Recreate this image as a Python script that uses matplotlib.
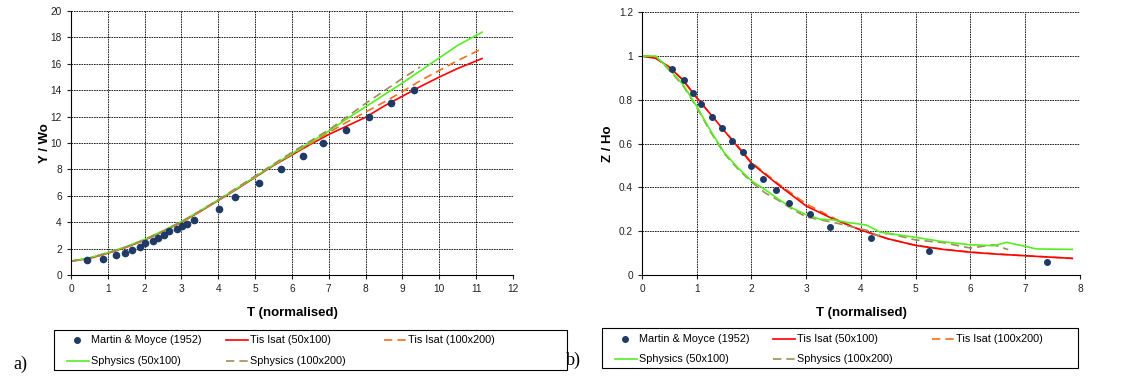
import numpy as np
import matplotlib
matplotlib.use("Agg")
import matplotlib.pyplot as plt
from matplotlib.lines import Line2D
from matplotlib.patches import Rectangle

plt.rcParams['font.family'] = ['Liberation Sans', 'DejaVu Sans']

# ---- panel a) Y / Wo ----
a_exp_t = [0.44, 0.86, 1.21, 1.46, 1.65, 1.87, 2.0, 2.23, 2.35, 2.52, 2.67, 2.87, 3.01, 3.14, 3.35,
           4.03, 4.46, 5.11, 5.70, 6.31, 6.84, 7.46, 8.08, 8.70, 9.32]
a_exp_y = [1.1, 1.2, 1.5, 1.7, 1.9, 2.1, 2.4, 2.6, 2.8, 3.0, 3.3, 3.5, 3.7, 3.9, 4.15,
           5.0, 5.9, 7.0, 8.0, 9.0, 10.0, 11.0, 12.0, 13.0, 14.0]

a_t = [0, 0.5, 1, 1.5, 2, 2.5, 3, 3.5, 4, 4.5, 5, 5.5, 6, 6.5, 7, 7.5, 8, 8.5, 9, 9.5, 10, 10.5, 11.16]
a_tis50 = [1.05, 1.25, 1.65, 2.1, 2.65, 3.3, 4.0, 4.8, 5.65, 6.5, 7.4, 8.3, 9.1, 9.9, 10.65,
           11.3, 11.95, 12.8, 13.55, 14.3, 15.0, 15.65, 16.4]
a_tis100 = [1.05, 1.25, 1.65, 2.1, 2.65, 3.3, 4.0, 4.8, 5.65, 6.55, 7.45, 8.35, 9.15, 9.95, 10.8,
            11.6, 12.35, 13.1, 13.9, 14.75, 15.5, 16.25, 17.15]
a_sph50 = [1.05, 1.3, 1.7, 2.15, 2.7, 3.35, 4.05, 4.85, 5.7, 6.55, 7.45, 8.35, 9.2, 10.05, 10.9,
           11.85, 12.75, 13.65, 14.55, 15.5, 16.45, 17.4, 18.4]
a_t_sph100 = [0, 0.5, 1, 1.5, 2, 2.5, 3, 3.5, 4, 4.5, 5, 5.5, 6, 6.5, 7, 7.5, 8, 8.5, 9, 9.48]
a_sph100 = [1.05, 1.28, 1.68, 2.12, 2.68, 3.33, 4.05, 4.85, 5.7, 6.6, 7.5, 8.4, 9.3, 10.15, 11.0,
            12.0, 13.0, 13.95, 14.9, 15.76]

# ---- panel b) Z / Ho ----
b_exp_t = [0.55, 0.77, 0.93, 1.08, 1.28, 1.47, 1.65, 1.84, 2.0, 2.21, 2.44, 2.69, 3.06, 3.44, 4.19, 5.24, 7.40]
b_exp_z = [0.94, 0.89, 0.83, 0.78, 0.72, 0.67, 0.61, 0.56, 0.50, 0.44, 0.39, 0.33, 0.28, 0.22, 0.17, 0.11, 0.06]

b_t = [0, 0.25, 0.5, 0.75, 1, 1.25, 1.5, 1.75, 2, 2.5, 3, 3.5, 4, 4.5, 5, 5.5, 6, 6.5, 7, 7.5, 7.86]
b_tis50 = [1.0, 0.99, 0.95, 0.89, 0.81, 0.735, 0.66, 0.585, 0.51, 0.41, 0.315, 0.255, 0.205, 0.165,
           0.135, 0.117, 0.104, 0.095, 0.088, 0.081, 0.076]
b_tis100 = [1.0, 0.99, 0.95, 0.89, 0.81, 0.735, 0.66, 0.59, 0.515, 0.415, 0.325, 0.26, 0.205, 0.165,
            0.136, 0.118, 0.105, 0.096, 0.088, 0.081, 0.076]

b_t_sph50 = [0, 0.25, 0.5, 0.75, 1, 1.25, 1.5, 1.75, 2, 2.25, 2.5, 2.75, 3, 3.25, 3.5, 3.75, 4, 4.1,
             4.35, 4.5, 5, 5.5, 6, 6.42, 6.66, 7, 7.2, 7.5, 7.86]
b_sph50 = [1.0, 1.0, 0.94, 0.87, 0.77, 0.66, 0.56, 0.49, 0.43, 0.39, 0.345, 0.305, 0.275, 0.255,
           0.252, 0.24, 0.232, 0.228, 0.196, 0.19, 0.172, 0.152, 0.138, 0.134, 0.149, 0.131, 0.119,
           0.118, 0.117]
b_t_sph100 = [0, 0.25, 0.5, 0.75, 1, 1.25, 1.5, 1.75, 2, 2.25, 2.5, 2.75, 3, 3.5, 4, 4.1, 4.3, 4.5,
              5, 5.5, 6, 6.42, 6.69]
b_sph100 = [1.0, 1.0, 0.935, 0.865, 0.765, 0.655, 0.555, 0.485, 0.425, 0.375, 0.34, 0.3, 0.265,
            0.24, 0.21, 0.205, 0.18, 0.19, 0.16, 0.148, 0.123, 0.138, 0.116]

labels = ['Martin & Moyce (1952)', 'Tis Isat (50x100)', 'Tis Isat (100x200)',
          'Sphysics (50x100)', 'Sphysics (100x200)']

c_exp = '#1f3a64'
c_tis50 = '#ff0000'
c_tis100 = '#f07020'
c_sph50 = '#55ee22'
c_sph100 = '#a08c5a'

W, H = 1121, 376
fig = plt.figure(figsize=(W / 100, H / 100), dpi=100)
ax1 = fig.add_axes([0.0633, 0.2686, 0.3943, 0.702])
ax2 = fig.add_axes([0.5727, 0.2686, 0.3907, 0.6987])


def style(ax, xmax, ymax, xstep, ystep, ylabel, pad):
    ax.set_xlim(0, xmax)
    ax.set_ylim(0, ymax)
    ax.set_xticks(np.arange(0, xmax + 0.001, xstep))
    ax.set_yticks(np.arange(0, ymax + 0.001, ystep))
    ax.grid(True, color='black', linestyle=(0, (2, 1)), linewidth=0.6)
    ax.spines['top'].set_visible(False)
    ax.spines['right'].set_visible(False)
    ax.tick_params(labelsize=7.3, length=3, width=0.8, direction='out', colors='#222222')
    ax.set_xlabel('T (normalised)', fontsize=9.5, fontweight='bold', labelpad=9)
    ax.set_ylabel(ylabel, fontsize=9.5, fontweight='bold', labelpad=pad)


ax1.plot(a_t, a_tis50, color=c_tis50, lw=1.2)
ax1.plot(a_t, a_tis100, color=c_tis100, lw=1.2, dashes=(5, 3))
ax1.plot(a_t, a_sph50, color=c_sph50, lw=1.2)
ax1.plot(a_t_sph100, a_sph100, color=c_sph100, lw=1.2, dashes=(5, 3))
ax1.plot(a_exp_t, a_exp_y, 'o', color=c_exp, ms=4.5, zorder=5)
style(ax1, 12, 20, 1, 2, 'Y / Wo', 0)
ax1.set_yticklabels([str(v) for v in range(0, 21, 2)])

ax2.plot(b_t, b_tis100, color=c_tis100, lw=1.2, dashes=(5, 3))
ax2.plot(b_t, b_tis50, color=c_tis50, lw=1.2)
ax2.plot(b_t_sph100, b_sph100, color=c_sph100, lw=1.2, dashes=(5, 3))
ax2.plot(b_t_sph50, b_sph50, color=c_sph50, lw=1.2)
ax2.plot(b_exp_t, b_exp_z, 'o', color=c_exp, ms=4, zorder=5)
style(ax2, 8, 1.2, 1, 0.2, 'Z / Ho', 3.5)
ax2.set_yticklabels(['0', '0.2', '0.4', '0.6', '0.8', '1', '1.2'])

styles = [dict(ls='none', marker='o', color=c_exp, ms=4),
          dict(color=c_tis50, lw=1.2),
          dict(color=c_tis100, lw=1.2, dashes=(5, 3)),
          dict(color=c_sph50, lw=1.2),
          dict(color=c_sph100, lw=1.2, dashes=(5, 3))]


# Excel-like legend box with fixed column widths (pixel positions)
def legend_box(x0, y0, x1, y1, cols, rows, hlen=22):
    fx = lambda px: px / W
    fy = lambda py: 1 - py / H
    fig.add_artist(Rectangle((fx(x0), fy(y1)), fx(x1 - x0), (y1 - y0) / H, fill=False,
                             edgecolor='black', lw=0.8, transform=fig.transFigure))
    for i, (lab, st) in enumerate(zip(labels, styles)):
        cx = cols[i % 3]
        cy = rows[i // 3]
        if st.get('marker'):
            xs = [fx(cx + hlen / 2 - 1)]
            ys = [fy(cy)]
        else:
            xs = [fx(cx), fx(cx + hlen)]
            ys = [fy(cy), fy(cy)]
        fig.add_artist(Line2D(xs, ys, transform=fig.transFigure, **st))
        fig.text(fx(cx + hlen + 2), fy(cy), lab, fontsize=7.8, va='center', ha='left')


legend_box(54, 330, 567, 370, [67, 226, 384], [340, 361])
legend_box(602, 328, 1078, 368, [615, 773, 932], [339, 359])

fig.text(0.012, 0.02, 'a)', fontsize=13, family=['Liberation Serif', 'DejaVu Serif'])
fig.text(0.505, 0.03, 'b)', fontsize=13, family=['Liberation Serif', 'DejaVu Serif'])

fig.savefig('out.png', dpi=100)
